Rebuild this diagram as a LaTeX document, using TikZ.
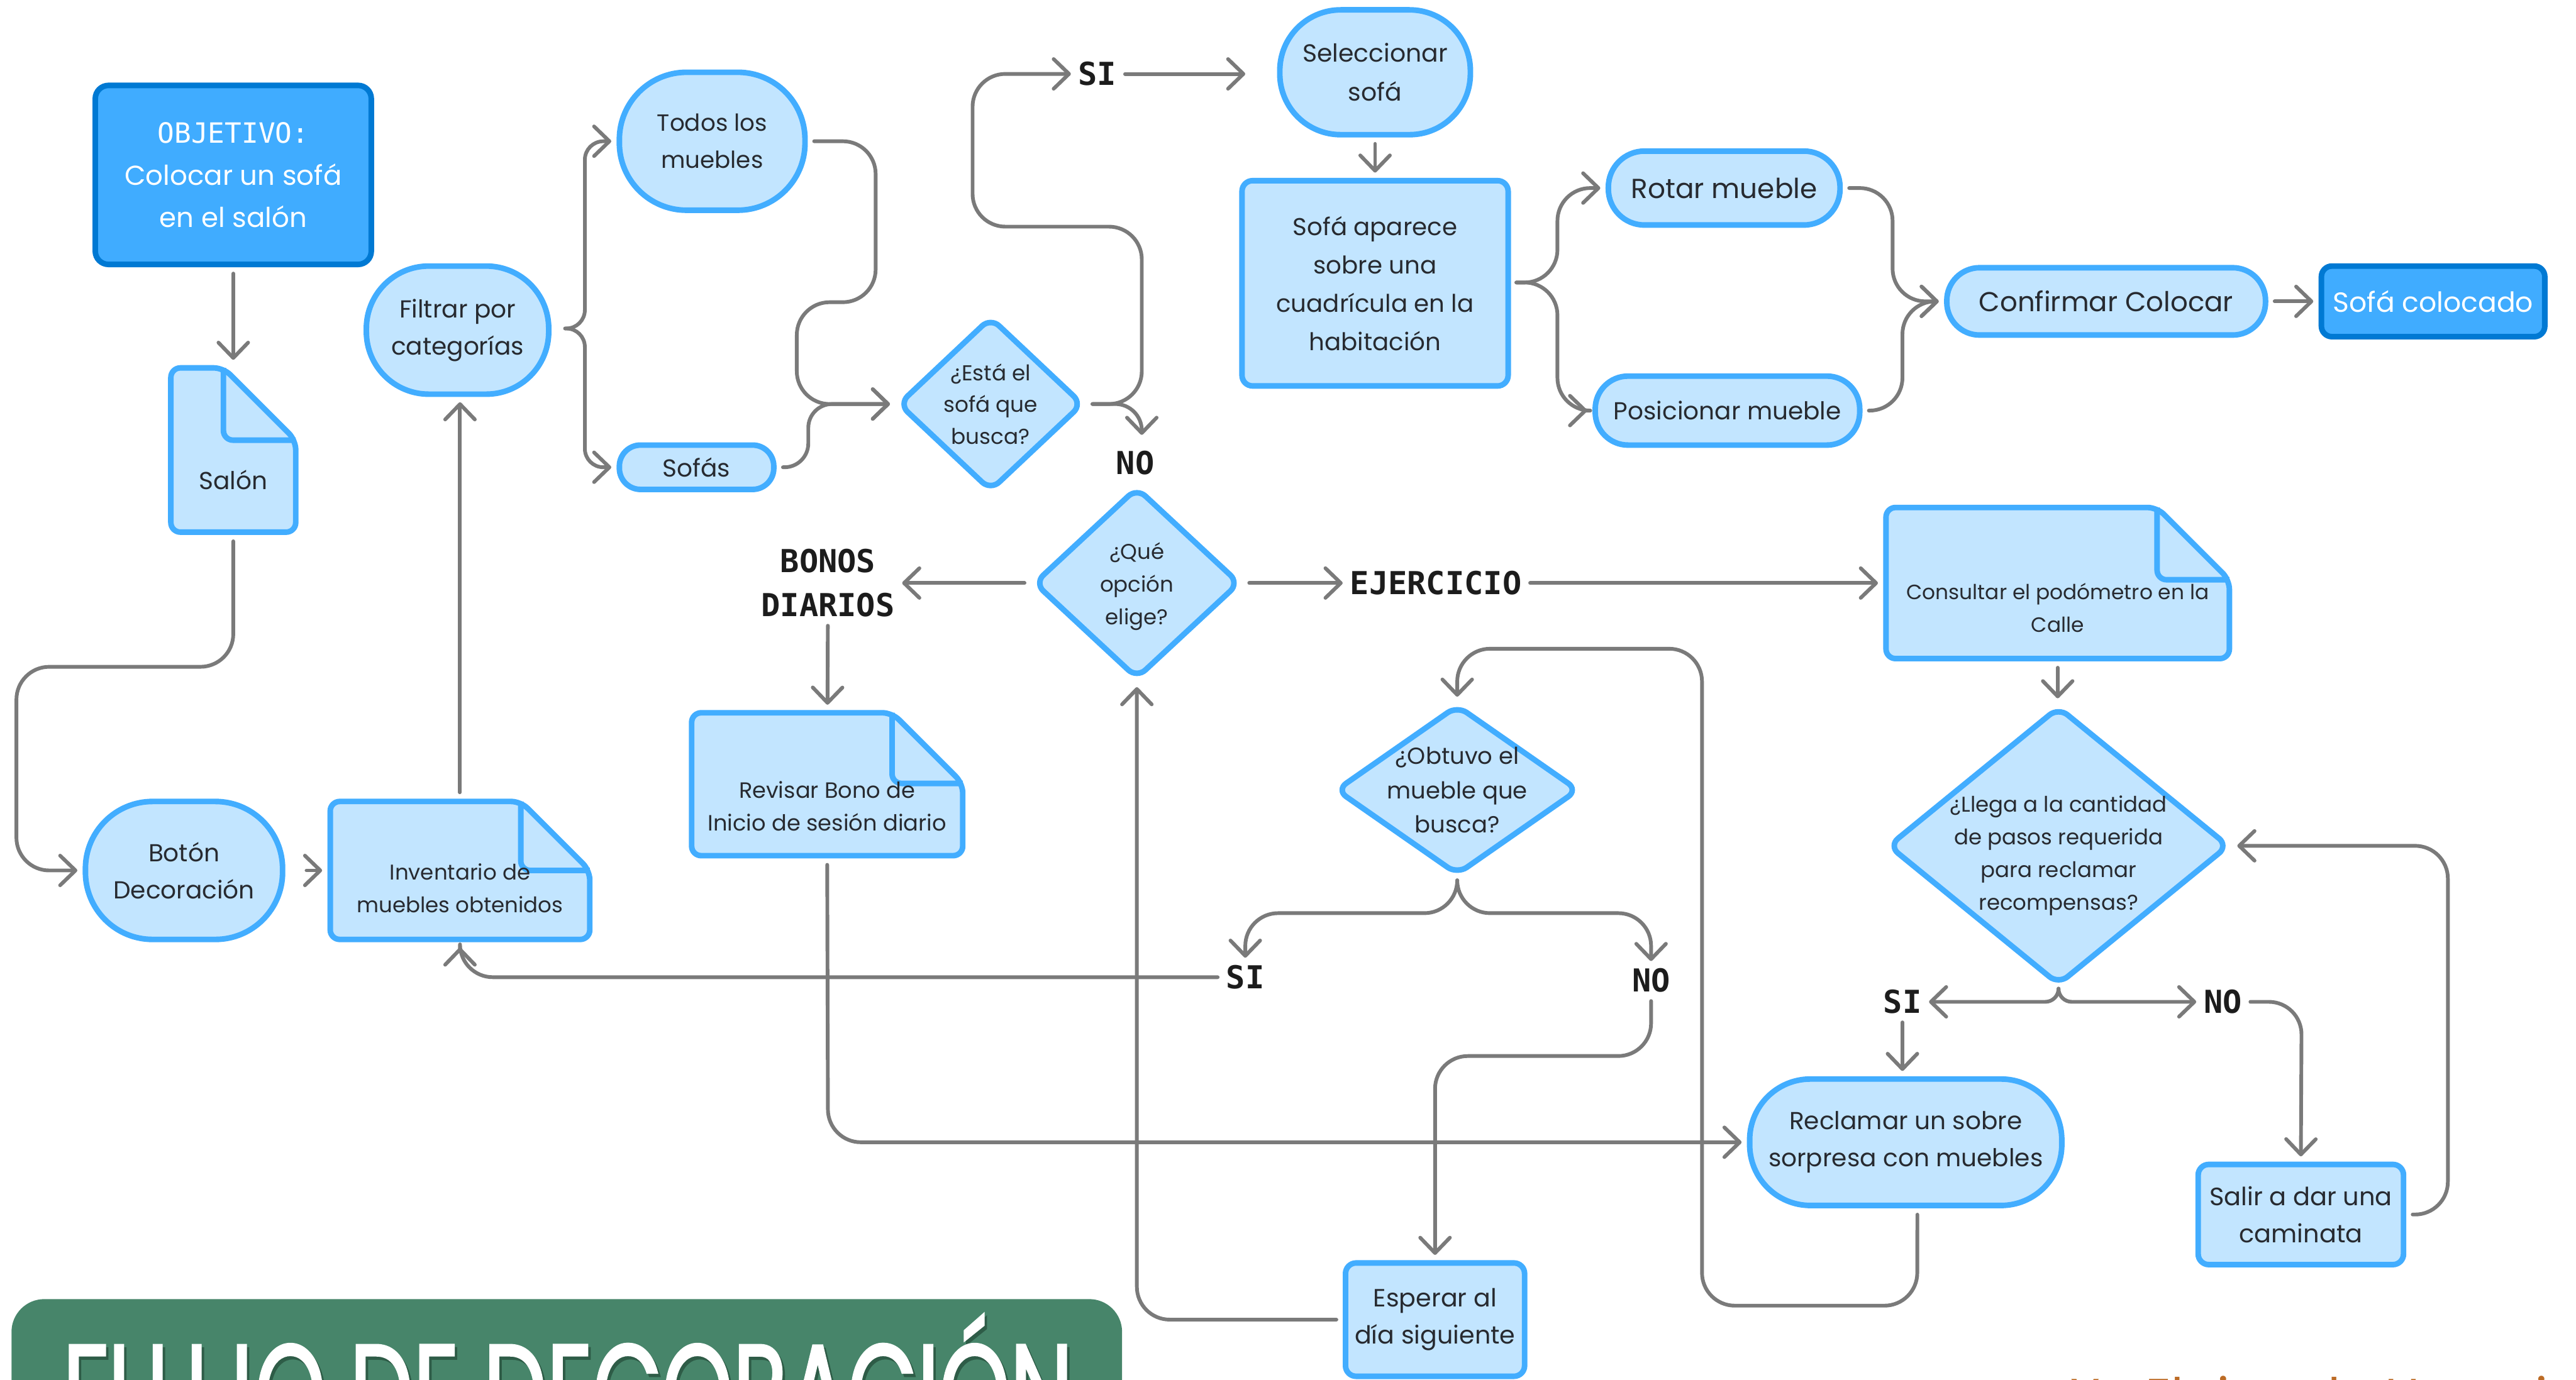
\documentclass[tikz,border=0pt]{standalone}
\usepackage{fontspec}
\usepackage{graphicx}
\setmainfont{Poppins}
\newfontfamily\monof{DejaVu Sans Mono}
\newfontfamily\titlef{Poppins}[FakeBold=2]
\usetikzlibrary{arrows.meta,shapes.geometric,fit,calc}
\definecolor{lfill}{HTML}{C2E5FF}
\definecolor{lline}{HTML}{42ADFF}
\definecolor{dfill}{HTML}{40ACFF}
\definecolor{dline}{HTML}{0079D3}
\definecolor{connc}{HTML}{7A7A7A}
\definecolor{txtc}{HTML}{272A30}
\definecolor{labc}{HTML}{1C1C1C}
\definecolor{tgreen}{HTML}{47856A}
\definecolor{tshadow}{HTML}{2E5C47}
\definecolor{orng}{HTML}{BC6B25}
\newcommand\docpath[5]{%
  \path[docsh] (#1,#2) -- ({#3-#5},#2) -- (#3,{#2+#5}) -- (#3,#4) -- (#1,#4) -- cycle;
  \path[docsh, fill=none] ({#3-#5},#2) -- ({#3-#5},{#2+#5}) -- (#3,{#2+#5});
}
\begin{document}
\begin{tikzpicture}[x=0.031033cm, y=-0.031033cm,
  every node/.style={text=txtc},
  fs/.style 2 args={font=\fontsize{#1}{#2}\selectfont},
  lnode/.style={draw=lline, fill=lfill, line width=3pt, inner sep=0pt, align=center},
  dnode/.style={draw=dline, fill=dfill, line width=3pt, inner sep=0pt, align=center},
  term/.style={lnode, rounded corners=#1},
  boxn/.style={lnode, rounded corners=0.2cm},
  dia/.style={diamond, draw=lline, fill=lfill, line width=3pt, rounded corners=0.22cm, inner sep=0pt},
  docsh/.style={draw=lline, fill=lfill, line width=3pt, rounded corners=0.18cm, line join=round},
  hold/.style={inner sep=0pt, outer sep=1.5pt},
  lab/.style={text=labc, font=\monof\bfseries\fontsize{17}{23.8}\selectfont, align=center, inner sep=1pt},
  cn/.style={draw=connc, line width=2pt, line cap=round, line join=round, rounded corners=0.62cm},
  ar/.style={cn, -{Straight Barb[length=2.9mm,width=5.6mm,round]}, shorten >=0.1cm, shorten <=0.12cm},
]
\useasboundingbox (0,0) rectangle (1568,840);
\clip (0,0) rectangle (1568,840);
\fill[white] (0,0) rectangle (1568,840);

% ---------- nodes ----------
\node[dnode, rounded corners=0.25cm, fit={(58,52) (226,161)},
  label={[text=white, align=center, fs={14.7}{22.5}]center:{{\monof\fontsize{15}{22.5}\selectfont OBJETIVO:}\\Colocar un sofá\\en el salón}}] (obj) {};

\docpath{104}{224}{180}{324}{44}
\node[hold, fit={(104,224) (180,324)}, label={[yshift=-0.56cm, fs={13.2}{20}]center:Salón}] (salon) {};

\node[term=1.27cm, fit={(52,488) (172,572)}, label={[fs={13.2}{20}, align=center]center:{Botón\\Decoración}}] (boton) {};

\docpath{201}{488}{359}{572}{42}
\node[hold, fit={(201,488) (359,572)}, label={[yshift=-0.34cm, fs={11.5}{17.6}, align=center]center:{Inventario de\\muebles obtenidos}}] (inv) {};

\node[term=1.18cm, fit={(223,162) (334,240)}, label={[fs={13.2}{20}, align=center]center:{Filtrar por\\categorías}}] (filtrar) {};
\node[term=1.27cm, fit={(377,44) (490,128)}, label={[fs={12.6}{20}, align=center]center:{Todos los\\muebles}}] (todos) {};
\node[term=0.4cm, fit={(377,271) (471,298)}, label={[fs={13.2}{20}]center:Sofás}] (sofas) {};

\node[dia, minimum width=3.5cm, minimum height=3.3cm,
  label={[fs={11.6}{17}, align=center]center:{¿Está el\\sofá que\\busca?}}] (esta) at (603,246) {};

\node[term=1.15cm, fit={(779,6) (895,82)}, label={[fs={13.3}{21}, align=center]center:{Seleccionar\\sofá}}] (selec) {};
\node[boxn, fit={(756,110) (918,235)}, label={[fs={13.1}{20.6}, align=center]center:{Sofá aparece\\sobre una\\cuadrícula en la\\habitación}}] (aparece) {};
\node[term=0.68cm, fit={(979,92) (1120,137)}, label={[fs={14.8}{20}]center:Rotar mueble}] (rotar) {};
\node[term=0.62cm, fit={(971,229) (1132,271)}, label={[fs={13.2}{20}]center:Posicionar mueble}] (posic) {};
\node[term=0.62cm, fit={(1185,163) (1379,204)}, label={[fs={14.7}{20}]center:Confirmar Colocar}] (confirm) {};
\node[dnode, rounded corners=0.2cm, fit={(1413,162) (1549,205)}, label={[fs={14.9}{20}, text=white]center:Sofá colocado}] (colocado) {};

\node[dia, minimum width=3.9cm, minimum height=3.63cm,
  label={[yshift=-0.06cm, fs={11.5}{17.6}, align=center]center:{¿Qué\\opción\\elige?}}] (que) at (692,355) {};

\docpath{421}{434}{586}{521}{43}
\node[hold, fit={(421,434) (586,521)}, label={[yshift=-0.42cm, fs={11.9}{17.6}, align=center]center:{Revisar Bono de\\Inicio de sesión diario}}] (revisar) {};

\docpath{1148}{309}{1357}{401}{44}
\node[hold, fit={(1148,309) (1357,401)}, label={[yshift=-0.47cm, fs={11.1}{17.6}, align=center]center:{Consultar el podómetro en la\\Calle}}] (consultar) {};

\node[dia, minimum width=6.45cm, minimum height=5.27cm,
  label={[yshift=-0.19cm, fs={11.5}{17.6}, align=center]center:{¿Llega a la cantidad\\de pasos requerida\\para reclamar\\recompensas?}}] (llega) at (1253,515) {};

\node[dia, minimum width=4.6cm, minimum height=3.22cm,
  label={[fs={12.5}{18.5}, align=center]center:{¿Obtuvo el\\mueble que\\busca?}}] (obtuvo) at (887,481) {};

\node[term=1.15cm, fit={(1065,657) (1255,734)}, label={[fs={13.2}{20}, align=center]center:{Reclamar un sobre\\sorpresa con muebles}}] (reclamar) {};
\node[boxn, fit={(1338,709) (1463,770)}, label={[fs={13.5}{20}, align=center]center:{Salir a dar una\\caminata}}] (salir) {};
\node[boxn, fit={(819,769) (928,838)}, label={[fs={13.4}{20}, align=center]center:{Esperar al\\día siguiente}}] (esperar) {};

% ---------- labels ----------
\node[lab] (siTop) at (668,45) {SI};
\node[lab] (noTop) at (691,282) {NO};
\node[lab] (bonos) at (504,355) {BONOS\\DIARIOS};
\node[lab] (ejer) at (874,355) {EJERCICIO};
\node[lab] (siObt) at (758,595) {SI};
\node[lab] (noObt) at (1005,597) {NO};
\node[lab] (siLl) at (1158,610) {SI};
\node[lab] (noLl) at (1353,610) {NO};

\coordinate (bt1) at (344,200);
\coordinate (bt2) at (923,172);
\coordinate (bt3) at (1253,602);
\coordinate (bt4) at (887,536);
\coordinate (noIn) at (695,268);

% ---------- connectors ----------
\draw[ar] (obj.south) -- (obj.south |- salon.north);
\draw[ar] (salon.south) -- (142,406) -- (10,406) -- (10,530) -- (boton.west);
\draw[ar, shorten <=0.4cm] (boton) -- (inv);
\draw[ar] (inv.north) -- (inv.north |- filtrar.south);

\draw[ar, shorten <=0pt, rounded corners=0.35cm] (bt1) -- (356,200) -- (356,86) -- (todos.west);
\draw[ar, shorten <=0pt, rounded corners=0.35cm] (bt1) -- (356,200) -- (356,284.5) -- (sofas.west);

\draw[ar] (todos.east) -- (533,86) -- (533,184) -- (485,184) -- (485,246) -- (esta.west);
\draw[ar, rounded corners=0.45cm] (sofas.east) -- (492,284.5) -- (492,246) -- (esta.west);

\draw[ar] (esta.east) -- (695,246) -- (695,138) -- (592,138) -- (592,45) -- (siTop.west);
\draw[ar, rounded corners=0.5cm] (esta.east) -- (695,246) -- (noIn);

\draw[ar, shorten >=0.6cm] (siTop.east) -- (siTop.east -| selec.west);
\draw[ar] (selec.south) -- (selec.south |- aparece.north);

\draw[ar, shorten <=0pt] (bt2) -- (948,172) -- (948,114.5) -- (rotar.west);
\draw[ar, shorten <=0pt] (bt2) -- (948,172) -- (948,250) -- (posic.west);

\draw[ar] (rotar.east) -- (1152,114.5) -- (1152,183.5) -- (confirm.west);
\draw[ar] (posic.east) -- (1158,250) -- (1158,183.5) -- (confirm.west);
\draw[ar] (confirm) -- (colocado);

\draw[ar] (que) -- (bonos);
\draw[ar] (que) -- (ejer);
\draw[ar] (ejer) -- (consultar);
\draw[ar] (bonos) -- (revisar);
\draw[ar] (revisar.south) -- (504,695.5) -- (reclamar.west);
\draw[ar] (consultar.south) -- (consultar.south |- llega.north);

\draw[ar, shorten <=0pt, rounded corners=0.25cm] (bt3) -- (1253,610) -- (siLl.east);
\draw[ar, shorten <=0pt, rounded corners=0.25cm] (bt3) -- (1253,610) -- (noLl.west);
\draw[ar] (siLl.south) -- (siLl.south |- reclamar.north);
\draw[ar] (noLl.east) -- (1401,610) -- (salir.north);
\draw[ar] (salir.east) -- (1490,739.5) -- (1490,515) -- (llega.east);

\draw[ar] ([xshift=0.22cm]reclamar.south) -- (1167,795) -- (1036,795) -- (1036,395) -- (887,395) -- (obtuvo.north);

\draw[ar, shorten <=0pt] (bt4) -- (887,556) -- (758,556) -- (siObt.north);
\draw[ar, shorten <=0pt] (bt4) -- (887,556) -- (1005,556) -- (noObt.north);
\draw[ar] (siObt.west) -- (280,595) -- (inv.south);
\draw[ar] (noObt.south) -- (1005,643) -- (873.5,643) -- (esperar.north);
\draw[ar] (esperar.west) -- (692,803.5) -- (que.south);

% ---------- title & author ----------
\fill[tgreen, rounded corners=0.62cm] (7,791) rectangle (683,900);
\node[anchor=north west, inner sep=0pt, text=tshadow] (titleSh) at (39.5,802) {\scalebox{1}[1.5]{\resizebox{19.08cm}{!}{\titlef FLUJO DE DECORACIÓN}}};
\node[anchor=north west, inner sep=0pt, text=white] (title) at (38,800) {\scalebox{1}[1.5]{\resizebox{19.08cm}{!}{\titlef FLUJO DE DECORACIÓN}}};
\node[anchor=base west, inner sep=0pt, text=orng, fs={27}{27}] (author) at (1260,861) {Yo Elaine de Hernaiz};
\end{tikzpicture}
\end{document}
